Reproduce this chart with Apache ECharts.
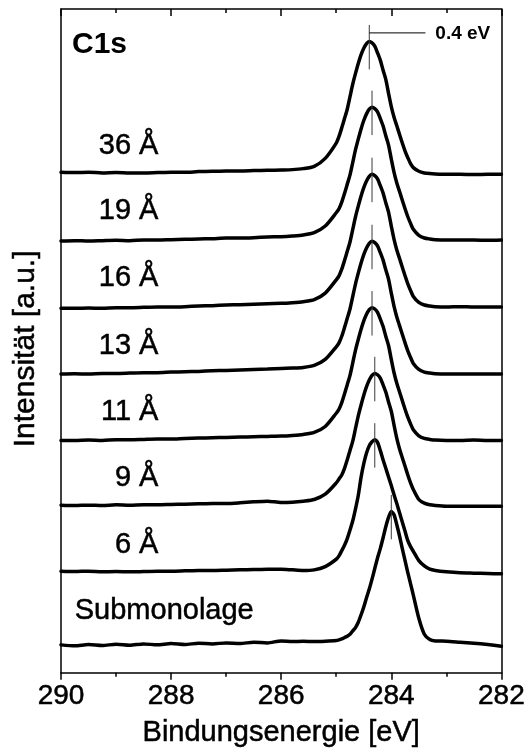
<!DOCTYPE html>
<html>
<head>
<meta charset="utf-8">
<script src="https://cdn.jsdelivr.net/npm/echarts@6/dist/echarts.min.js"></script>
<style>
  html, body { margin: 0; padding: 0; background: #ffffff; }
  #chart { width: 528px; height: 753px; }
</style>
</head>
<body>
<div id="chart"></div>
<script>
// Binding energy grid (eV), shared by all C1s spectra
const energies = [
  290.0, 289.75, 289.5, 289.25, 289.0, 288.75, 288.5, 288.25, 288.0, 287.75,
  287.5, 287.25, 287.0, 286.75, 286.5, 286.25, 286.0, 285.8, 285.6, 285.4,
  285.2, 285.0, 284.95, 284.9, 284.85, 284.8, 284.75, 284.7, 284.65, 284.6,
  284.55, 284.5, 284.45, 284.4, 284.35, 284.3, 284.25, 284.2, 284.15, 284.1,
  284.05, 284.0, 283.95, 283.9, 283.85, 283.8, 283.75, 283.7, 283.65, 283.6,
  283.5, 283.4, 283.3, 283.2, 283.0, 282.75, 282.5, 282.25, 282.0
];

// Film thickness of each spectrum, top to bottom
const thicknessLabels = ['36 Å', '19 Å', '16 Å', '13 Å', '11 Å', '9 Å', '6 Å', 'Submonolage'];

// Vertical stacking offset of each spectrum (a.u.)
const offsets = [7.51, 6.52, 5.51, 4.50, 3.50, 2.51, 1.49, 0.40];

// C1s peak maxima (eV)
const peakEnergies = [284.4, 284.35, 284.35, 284.35, 284.35, 284.3, 284.3, 284.0];

// Background-relative intensities (a.u.) on the energy grid
const int36 = [
  0.03, 0.025, 0.03, 0.02, 0.025, 0.02, 0.02, 0.025, 0.03, 0.03,
  0.04, 0.045, 0.05, 0.05, 0.055, 0.06, 0.065, 0.07, 0.085, 0.12,
  0.24, 0.47, 0.57, 0.70, 0.84, 0.98, 1.17, 1.36, 1.52, 1.67,
  1.80, 1.90, 1.97, 2.00, 1.98, 1.93, 1.83, 1.72, 1.57, 1.43,
  1.22, 1.02, 0.86, 0.73, 0.60, 0.47, 0.35, 0.25, 0.16, 0.10,
  0.045, 0.02, 0.01, 0.005, 0.0, 0.0, -0.005, 0.0, 0.0
];
const int19 = [
  -0.015, -0.01, -0.015, -0.01, -0.005, -0.01, 0.0, 0.0, 0.005, 0.01,
  0.015, 0.02, 0.03, 0.03, 0.035, 0.045, 0.05, 0.06, 0.075, 0.11,
  0.21, 0.41, 0.47, 0.57, 0.70, 0.84, 0.98, 1.17, 1.36, 1.52,
  1.67, 1.80, 1.90, 1.97, 2.00, 1.98, 1.93, 1.83, 1.72, 1.57,
  1.43, 1.22, 1.02, 0.86, 0.73, 0.60, 0.47, 0.35, 0.25, 0.16,
  0.07, 0.03, 0.015, 0.005, 0.0, 0.0, 0.0, -0.005, 0.0
];
const int16 = [
  -0.02, -0.02, -0.015, -0.02, -0.01, -0.01, -0.005, 0.0, 0.0, 0.005,
  0.015, 0.02, 0.03, 0.035, 0.04, 0.05, 0.055, 0.065, 0.08, 0.11,
  0.21, 0.41, 0.47, 0.57, 0.70, 0.84, 0.98, 1.17, 1.36, 1.52,
  1.67, 1.80, 1.90, 1.97, 2.00, 1.98, 1.93, 1.83, 1.72, 1.57,
  1.43, 1.22, 1.02, 0.86, 0.73, 0.60, 0.47, 0.35, 0.25, 0.16,
  0.07, 0.03, 0.015, 0.005, 0.0, 0.005, 0.0, 0.0, 0.0
];
const int13 = [
  0.0, 0.005, 0.0, 0.01, 0.01, 0.015, 0.02, 0.02, 0.03, 0.035,
  0.04, 0.05, 0.055, 0.06, 0.07, 0.075, 0.085, 0.09, 0.10, 0.13,
  0.22, 0.41, 0.47, 0.57, 0.70, 0.84, 0.98, 1.17, 1.36, 1.52,
  1.67, 1.80, 1.90, 1.97, 2.00, 1.98, 1.93, 1.83, 1.72, 1.57,
  1.43, 1.22, 1.02, 0.86, 0.73, 0.60, 0.47, 0.35, 0.25, 0.16,
  0.07, 0.03, 0.015, 0.005, 0.0, 0.0, 0.0, 0.0, 0.0
];
const int11 = [
  0.0, 0.0, 0.005, 0.0, 0.01, 0.01, 0.015, 0.02, 0.02, 0.03,
  0.035, 0.04, 0.045, 0.05, 0.055, 0.06, 0.065, 0.075, 0.09, 0.12,
  0.21, 0.41, 0.47, 0.57, 0.70, 0.84, 0.98, 1.17, 1.36, 1.52,
  1.67, 1.80, 1.90, 1.97, 2.00, 1.98, 1.93, 1.83, 1.72, 1.57,
  1.43, 1.22, 1.02, 0.86, 0.73, 0.60, 0.47, 0.35, 0.25, 0.16,
  0.07, 0.03, 0.015, 0.005, 0.0, 0.0, 0.005, 0.0, 0.0
];
const int9 = [
  0.015, 0.01, 0.015, 0.01, 0.02, 0.015, 0.02, 0.02, 0.025, 0.03,
  0.035, 0.04, 0.04, 0.05, 0.065, 0.075, 0.055, 0.06, 0.075, 0.10,
  0.18, 0.35, 0.41, 0.47, 0.57, 0.70, 0.84, 0.98, 1.17, 1.36,
  1.52, 1.67, 1.80, 1.90, 1.97, 2.00, 1.98, 1.93, 1.83, 1.72,
  1.57, 1.43, 1.22, 1.02, 0.86, 0.73, 0.60, 0.47, 0.35, 0.25,
  0.10, 0.045, 0.02, 0.01, 0.0, 0.0, 0.0, 0.0, 0.0
];
const int6 = [
  0.04, 0.035, 0.04, 0.03, 0.035, 0.03, 0.035, 0.04, 0.04, 0.045,
  0.05, 0.05, 0.055, 0.06, 0.065, 0.07, 0.07, 0.06, 0.05, 0.06,
  0.11, 0.22, 0.27, 0.35, 0.43, 0.53, 0.66, 0.80, 0.98, 1.18,
  1.45, 1.66, 1.82, 1.93, 1.99, 2.02, 1.98, 1.86, 1.72, 1.59,
  1.46, 1.33, 1.19, 1.06, 0.92, 0.78, 0.64, 0.50, 0.41, 0.34,
  0.20, 0.12, 0.07, 0.05, 0.03, 0.015, 0.01, 0.005, 0.0
];
const intSub = [
  0.02, 0.005, 0.025, 0.01, 0.03, 0.015, 0.035, 0.02, 0.04, 0.025,
  0.045, 0.035, 0.05, 0.04, 0.06, 0.05, 0.08, 0.07, 0.075, 0.07,
  0.075, 0.085, 0.095, 0.11, 0.13, 0.15, 0.18, 0.23, 0.28, 0.36,
  0.47, 0.59, 0.73, 0.86, 1.01, 1.17, 1.33, 1.47, 1.63, 1.80,
  1.94, 2.03, 1.98, 1.83, 1.66, 1.47, 1.29, 1.11, 0.94, 0.77,
  0.42, 0.18, 0.10, 0.08, 0.075, 0.06, 0.045, 0.025, 0.0
];

const spectra = [int36, int19, int16, int13, int11, int9, int6, intSub];
const shiftText = '0.4 eV';
const panelTitle = 'C1s';

const FONT = '"Liberation Sans", Arial, Helvetica, sans-serif';
// a hairline outline gives the text the slightly heavier stroke of the plot
const INK = { color: '#000', textBorderColor: '#000', textBorderWidth: 0.5, fontFamily: FONT };
const chart = echarts.init(document.getElementById('chart'), null, { renderer: 'canvas' });

const series = [];

// Stacked spectra
spectra.forEach((vals, k) => {
  series.push({
    type: 'line',
    name: thicknessLabels[k],
    xAxisIndex: 0, yAxisIndex: 0,
    data: energies.map((e, i) => [e, offsets[k] + vals[i]]),
    showSymbol: false,
    smooth: 0.25,
    lineStyle: { color: '#000', width: 3.5, cap: 'round', join: 'round' },
    z: 3,
    silent: true
  });
});

// Peak position markers
spectra.forEach((vals, k) => {
  const top = offsets[k] + Math.max(...vals);
  series.push({
    type: 'line',
    xAxisIndex: 0, yAxisIndex: 0,
    data: [[peakEnergies[k], top + 0.25], [peakEnergies[k], top - 0.42]],
    showSymbol: false,
    lineStyle: { color: '#3a3a3a', width: 1 },
    z: 4,
    silent: true
  });
});

// Shift annotation between the thickest film and the submonolayer
const topPeak = offsets[0] + Math.max(...int36);
series.push({
  type: 'line',
  xAxisIndex: 0, yAxisIndex: 0,
  data: [[peakEnergies[0], topPeak + 0.13], [283.38, topPeak + 0.13]],
  showSymbol: false,
  lineStyle: { color: '#000', width: 1 },
  z: 4,
  silent: true
});

// Text labels placed in data coordinates
const labelData = thicknessLabels.map((t, k) => {
  const isSub = k === thicknessLabels.length - 1;
  return {
    value: isSub ? [289.75, offsets[k] + 0.53] : [288.23, offsets[k] + 0.43],
    label: Object.assign({
      show: true, formatter: t, position: [0, 0],
      align: isSub ? 'left' : 'right', verticalAlign: 'middle',
      fontSize: 29
    }, INK)
  };
});
labelData.push({
  value: [289.8, 9.46],
  label: Object.assign({
    show: true, formatter: panelTitle, position: [0, 0],
    align: 'left', verticalAlign: 'middle',
    fontSize: 30, fontWeight: 'bold'
  }, INK, { textBorderWidth: 0 })
});
labelData.push({
  value: [283.2, topPeak + 0.11],
  label: Object.assign({
    show: true, formatter: shiftText, position: [0, 0],
    align: 'left', verticalAlign: 'middle',
    fontSize: 19, fontWeight: 'bold'
  }, INK, { textBorderWidth: 0 })
});
series.push({
  type: 'scatter',
  xAxisIndex: 0, yAxisIndex: 0,
  symbolSize: 0,
  itemStyle: { opacity: 1 },
  data: labelData,
  z: 5,
  silent: true
});

const option = {
  backgroundColor: '#ffffff',
  animation: false,
  grid: { left: 61, right: 25, top: 9, bottom: 78, containLabel: false },
  xAxis: [
    {
      type: 'value', position: 'bottom', inverse: true,
      min: 282, max: 290, interval: 2,
      name: 'Bindungsenergie [eV]', nameLocation: 'middle', nameGap: 46,
      nameTextStyle: Object.assign({ fontSize: 29 }, INK),
      axisLine: { show: true, onZero: false, lineStyle: { color: '#000', width: 1.5 } },
      axisTick: { show: true, inside: false, length: 7, lineStyle: { color: '#000', width: 1.5 } },
      minorTick: { show: true, splitNumber: 2, length: 4, lineStyle: { color: '#000', width: 1.5 } },
      axisLabel: Object.assign({ show: true, margin: 10, fontSize: 28 }, INK),
      splitLine: { show: false }
    },
    {
      type: 'value', position: 'top', inverse: true,
      min: 282, max: 290, interval: 2,
      axisLine: { show: true, onZero: false, lineStyle: { color: '#000', width: 1.5 } },
      axisTick: { show: true, inside: true, length: 7, lineStyle: { color: '#000', width: 1.5 } },
      minorTick: { show: true, splitNumber: 2, length: 4, lineStyle: { color: '#000', width: 1.5 } },
      axisLabel: { show: false },
      splitLine: { show: false }
    }
  ],
  yAxis: [
    {
      type: 'value', position: 'left', min: 0, max: 10,
      name: 'Intensität [a.u.]', nameLocation: 'middle', nameGap: 20,
      nameTextStyle: Object.assign({ fontSize: 30, padding: [0, 16, 0, 0] }, INK),
      axisLine: { show: true, onZero: false, lineStyle: { color: '#000', width: 1.5 } },
      axisTick: { show: false }, axisLabel: { show: false }, splitLine: { show: false }
    },
    {
      type: 'value', position: 'right', min: 0, max: 10,
      axisLine: { show: true, onZero: false, lineStyle: { color: '#000', width: 1.5 } },
      axisTick: { show: false }, axisLabel: { show: false }, splitLine: { show: false }
    }
  ],
  series: series
};

chart.setOption(option);
</script>
</body>
</html>
